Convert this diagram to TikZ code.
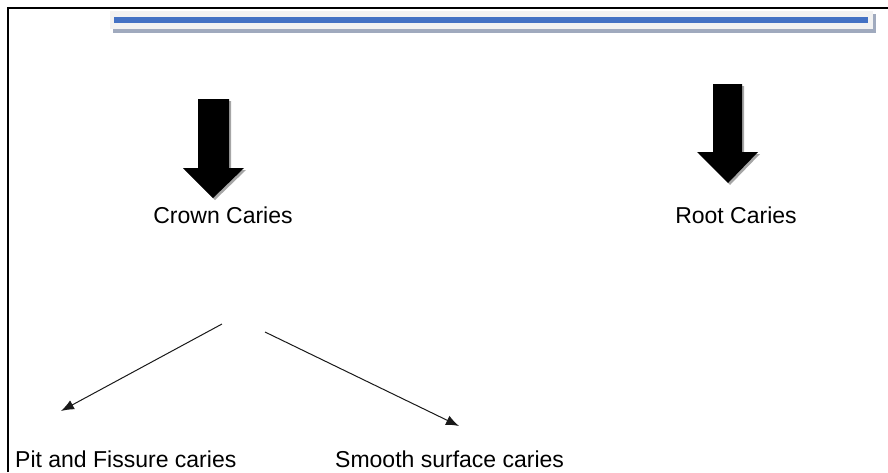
\documentclass[tikz,border=0pt]{standalone}
\usepackage{fontspec}
\setmainfont{Liberation Sans}
\usetikzlibrary{arrows.meta}
\definecolor{barblue}{RGB}{68,114,196}
\definecolor{barshadow}{RGB}{160,170,190}
\definecolor{barback}{RGB}{242,242,242}
\begin{document}
\begin{tikzpicture}[x=1pt,y=-1pt,
  lbl/.style={inner sep=0pt, anchor=base, font=\fontsize{23}{27}\selectfont},
  thinarrow/.style={draw=black!90, line width=1pt, -{Latex[length=13pt,width=10pt]}},
  blockarrow/.style={fill=black},
  blockshadow/.style={fill=black!35}]
\useasboundingbox (0,0) rectangle (888,472);
% frame
\draw[line width=2pt] (8,472) -- (8,8) -- (888,8);
% title bar
\fill[barshadow] (113,14) rectangle (876,33);
\fill[barback] (110,11) rectangle (873,29);
\fill[barblue] (114,17) rectangle (868,23);
% crown block arrow
\fill[blockshadow] (200,101) -- (231,101) -- (231,170) -- (246,170) -- (215,200) -- (185,170) -- (200,170) -- cycle;
\fill[blockarrow] (198,99) -- (229,99) -- (229,168) -- (244,168) -- (213,198) -- (183,168) -- (198,168) -- cycle;
% root block arrow
\fill[blockshadow] (715,86) -- (744,86) -- (744,154) -- (760,154) -- (730,185) -- (699,154) -- (715,154) -- cycle;
\fill[blockarrow] (713,84) -- (742,84) -- (742,152) -- (758,152) -- (728,183) -- (697,152) -- (713,152) -- cycle;
% labels
\node[lbl] (crown) at (223,223) {Crown Caries};
\node[lbl] (root) at (736,223) {Root Caries};
\node[lbl, anchor=base west] (pit) at (15,467) {Pit and Fissure caries};
\node[lbl, anchor=base west] (smooth) at (335,467) {Smooth surface caries};
% connectors
\coordinate (s1) at (222,324);
\coordinate (t1) at (61,411);
\coordinate (s2) at (265,332);
\coordinate (t2) at (459,426);
\draw[thinarrow] (s1) -- (t1);
\draw[thinarrow] (s2) -- (t2);
\end{tikzpicture}
\end{document}
